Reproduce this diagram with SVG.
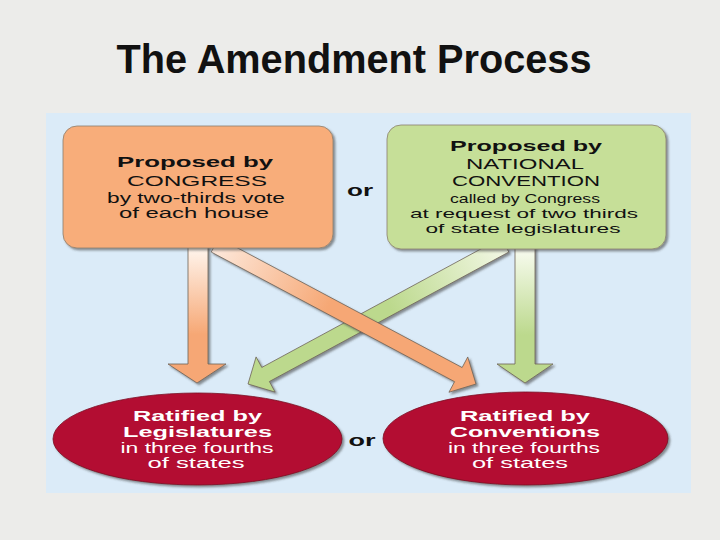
<svg xmlns="http://www.w3.org/2000/svg" width="720" height="540" viewBox="0 0 720 540">
  <defs>
    <style>
      .t { font-family: "Liberation Sans", Arial, sans-serif; text-anchor: middle; }
      .b { font-weight: bold; }
      .dk { fill: #111; }
      .wh { fill: #ffffff; }
      .s1 { font-size: 15px; }
      .s2 { font-size: 14px; }
      .s3 { font-size: 13.5px; }
      .arrow { stroke: #6d6257; stroke-width: 0.8; stroke-linejoin: miter; filter: url(#sh); }
      .box { stroke: #8a7f70; stroke-width: 0.8; filter: url(#sh); }
      .ell { fill: #b30b31; stroke: #7a0a22; stroke-width: 0.8; filter: url(#sh); }
    </style>
    <filter id="sh" x="-10%" y="-10%" width="125%" height="130%">
      <feDropShadow dx="2" dy="2" stdDeviation="1.2" flood-color="#3a3a3a" flood-opacity="0.55"/>
    </filter>
    <linearGradient id="gOV" gradientUnits="userSpaceOnUse" x1="0" y1="250" x2="0" y2="335">
      <stop offset="0" stop-color="#fff3ea"/>
      <stop offset="1" stop-color="#f6a774"/>
    </linearGradient>
    <linearGradient id="gGV" gradientUnits="userSpaceOnUse" x1="0" y1="250" x2="0" y2="335">
      <stop offset="0" stop-color="#f7fbee"/>
      <stop offset="1" stop-color="#bcd98d"/>
    </linearGradient>
    <linearGradient id="gOD" gradientUnits="userSpaceOnUse" x1="215" y1="245" x2="330" y2="306">
      <stop offset="0" stop-color="#fde9dc"/>
      <stop offset="1" stop-color="#f6a774"/>
    </linearGradient>
    <linearGradient id="gGD" gradientUnits="userSpaceOnUse" x1="505" y1="245" x2="390" y2="307">
      <stop offset="0" stop-color="#f3f8e6"/>
      <stop offset="1" stop-color="#bcd98d"/>
    </linearGradient>
  </defs>

  <rect x="0" y="0" width="720" height="540" fill="#ececea"/>
  <text class="t b dk" x="354" y="73" font-size="40" textLength="475" lengthAdjust="spacingAndGlyphs">The Amendment Process</text>

  <rect x="46" y="113" width="645" height="380" fill="#dbebf8"/>

  <g id="connectors">
    <polygon class="arrow" fill="url(#gOV)" points="188,240 208,240 208,364 226,364 197,383 168,364 188,364"/>
    <polygon class="arrow" fill="url(#gGV)" points="515,240 535,240 535,364 553,364 525,383 497,364 515,364"/>
    <polygon class="arrow" fill="url(#gGD)" points="501.19,237.96 261.78,367.45 256.08,356.90 248,384 275.10,392.08 269.40,381.53 508.81,252.04"/>
    <polygon class="arrow" fill="url(#gOD)" points="211.24,252.06 454.59,381.66 448.95,392.25 476,384 467.75,356.95 462.11,367.54 218.76,237.94"/>
  </g>

  <g id="congress">
    <rect class="box" x="63" y="126" width="270" height="122" rx="14" fill="#f8ad7a"/>
    <text class="t b dk s1" x="195" y="167" textLength="156" lengthAdjust="spacingAndGlyphs">Proposed by</text>
    <text class="t dk s1" x="197" y="186" textLength="140" lengthAdjust="spacingAndGlyphs">CONGRESS</text>
    <text class="t dk s2" x="196" y="203" textLength="178" lengthAdjust="spacingAndGlyphs">by two-thirds vote</text>
    <text class="t dk s2" x="194" y="218" textLength="150" lengthAdjust="spacingAndGlyphs">of each house</text>
  </g>

  <g id="convention">
    <rect class="box" x="387" y="125" width="279" height="124" rx="14" fill="#c6df98"/>
    <text class="t b dk s1" x="526" y="151" textLength="152" lengthAdjust="spacingAndGlyphs">Proposed by</text>
    <text class="t dk s1" x="525" y="169" textLength="118" lengthAdjust="spacingAndGlyphs">NATIONAL</text>
    <text class="t dk s1" x="526" y="186" textLength="148" lengthAdjust="spacingAndGlyphs">CONVENTION</text>
    <text class="t dk s3" x="525" y="203" textLength="150" lengthAdjust="spacingAndGlyphs">called by Congress</text>
    <text class="t dk s3" x="524" y="218" textLength="228" lengthAdjust="spacingAndGlyphs">at request of two thirds</text>
    <text class="t dk s3" x="523" y="233" textLength="195" lengthAdjust="spacingAndGlyphs">of state legislatures</text>
  </g>

  <g id="or-top">
    <text class="t b dk" x="360" y="196" font-size="17" textLength="26" lengthAdjust="spacingAndGlyphs">or</text>
  </g>

  <g id="legislatures">
    <ellipse class="ell" cx="197.5" cy="439" rx="144.5" ry="46"/>
    <text class="t b wh s1" x="197.5" y="421" textLength="129" lengthAdjust="spacingAndGlyphs">Ratified by</text>
    <text class="t b wh s1" x="197.5" y="437" textLength="149" lengthAdjust="spacingAndGlyphs">Legislatures</text>
    <text class="t wh s2" x="197" y="453" textLength="153" lengthAdjust="spacingAndGlyphs">in three fourths</text>
    <text class="t wh s2" x="196" y="468" textLength="97" lengthAdjust="spacingAndGlyphs">of states</text>
  </g>

  <g id="or-bottom">
    <text class="t b dk" x="362" y="446" font-size="17" textLength="27" lengthAdjust="spacingAndGlyphs">or</text>
  </g>

  <g id="conventions">
    <ellipse class="ell" cx="525.5" cy="438.5" rx="142.5" ry="46.5"/>
    <text class="t b wh s1" x="525" y="421" textLength="130" lengthAdjust="spacingAndGlyphs">Ratified by</text>
    <text class="t b wh s1" x="525" y="437" textLength="150" lengthAdjust="spacingAndGlyphs">Conventions</text>
    <text class="t wh s2" x="524" y="453" textLength="152" lengthAdjust="spacingAndGlyphs">in three fourths</text>
    <text class="t wh s2" x="520" y="468" textLength="96" lengthAdjust="spacingAndGlyphs">of states</text>
  </g>
</svg>
